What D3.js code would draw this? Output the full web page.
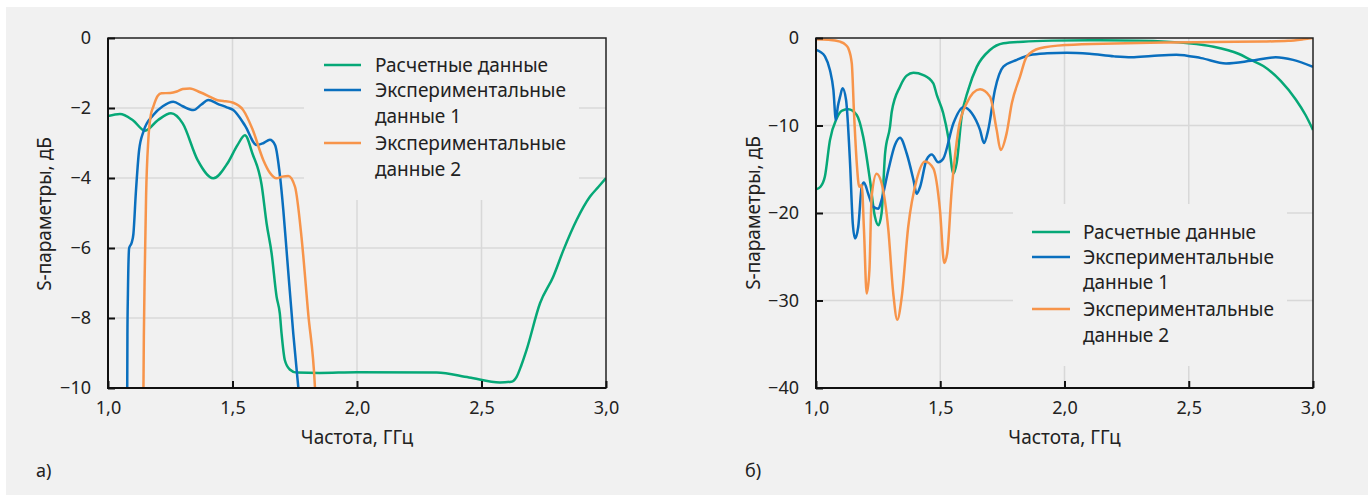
<!DOCTYPE html>
<html><head><meta charset="utf-8">
<script src="https://cdn.jsdelivr.net/npm/d3@7"></script>
<style>
html,body{margin:0;padding:0;background:#fff;}
svg{display:block;}
text{font-family:"Noto Sans",sans-serif;fill:#222;}
</style></head>
<body>
<svg id="chart" width="1368" height="495"></svg>
<script>
// ---------- DATA ----------
const xTickValues = [1.0, 1.5, 2.0, 2.5, 3.0];
const xTickLabels = ["1,0", "1,5", "2,0", "2,5", "3,0"];
const yTicksA = [0, -2, -4, -6, -8, -10];
const yTicksB = [0, -10, -20, -30, -40];
const seriesNames = ["Расчетные данные", "Экспериментальные данные 1", "Экспериментальные данные 2"];
const xTitle = "Частота, ГГц";
const yTitle = "S-параметры, дБ";
const panelLabels = ["а)", "б)"];

// Panel а: |S21|
const calcA_f = [1.0,1.048,1.1,1.149,1.2,1.253,1.3,1.36,1.423,1.48,1.52,1.55,1.58,1.617,1.637,1.657,1.677,1.69,1.697,1.71,1.73,1.758,1.85,2.0,2.32,2.45,2.574,2.62,2.641,2.66,2.681,2.735,2.788,2.829,2.882,2.936,2.97,3.0];
const calcA_v = [-2.23,-2.17,-2.35,-2.65,-2.35,-2.15,-2.44,-3.49,-4.01,-3.58,-3.06,-2.78,-3.3,-4.2,-5.3,-6.15,-7.39,-7.87,-8.44,-9.2,-9.47,-9.56,-9.57,-9.55,-9.56,-9.7,-9.84,-9.82,-9.68,-9.35,-8.91,-7.58,-6.82,-6.06,-5.2,-4.53,-4.25,-4.0];

const exp1A_f = [1.077,1.078,1.080,1.085,1.095,1.102,1.112,1.125,1.142,1.182,1.22,1.262,1.30,1.343,1.375,1.403,1.44,1.477,1.503,1.55,1.597,1.625,1.65,1.671,1.691,1.704,1.718,1.744,1.764,1.77];
const exp1A_v = [-10.4,-8.5,-7.3,-6.0,-5.85,-5.6,-4.4,-3.2,-2.68,-2.2,-1.95,-1.82,-1.95,-2.06,-1.9,-1.77,-1.88,-1.98,-2.06,-2.5,-3.06,-3.0,-2.91,-3.06,-3.96,-4.91,-6.15,-8.44,-9.96,-10.4];

const exp2A_f = [1.142,1.144,1.148,1.153,1.162,1.172,1.182,1.20,1.215,1.25,1.276,1.30,1.329,1.37,1.41,1.44,1.463,1.503,1.543,1.58,1.624,1.65,1.677,1.70,1.724,1.751,1.777,1.804,1.831,1.834];
const exp2A_v = [-10.4,-8.5,-6.5,-4.5,-2.9,-2.2,-1.96,-1.65,-1.58,-1.57,-1.53,-1.46,-1.44,-1.55,-1.68,-1.78,-1.8,-1.85,-2.06,-2.6,-3.49,-3.85,-4.01,-3.96,-3.94,-4.25,-5.68,-7.87,-9.96,-10.4];

// Panel б: |S11|
const calcB_f = [1.0,1.018,1.036,1.056,1.083,1.105,1.13,1.164,1.19,1.217,1.237,1.251,1.264,1.278,1.298,1.305,1.338,1.365,1.392,1.432,1.472,1.486,1.512,1.532,1.553,1.566,1.586,1.613,1.647,1.70,1.754,1.834,1.95,2.1,2.3,2.5,2.6,2.7,2.75,2.8,2.87,2.93,2.97,3.0];
const calcB_v = [-17.3,-17.0,-15.8,-11.7,-9.2,-8.3,-8.15,-8.8,-11.3,-16.2,-20.4,-21.4,-20.0,-13.2,-10.1,-8.4,-5.56,-4.3,-3.96,-4.23,-5.18,-6.5,-8.6,-11.3,-15.5,-14.3,-9.0,-5.9,-3.3,-1.37,-0.6,-0.42,-0.3,-0.25,-0.3,-0.6,-1.0,-1.8,-2.5,-3.2,-4.9,-7.0,-8.8,-10.5];

const exp1B_f = [1.0,1.018,1.036,1.056,1.07,1.08,1.088,1.097,1.107,1.121,1.137,1.148,1.157,1.17,1.184,1.193,1.21,1.231,1.251,1.264,1.291,1.318,1.338,1.365,1.392,1.405,1.419,1.445,1.466,1.492,1.512,1.553,1.593,1.627,1.66,1.676,1.693,1.72,1.754,1.808,1.861,1.93,2.009,2.1,2.2,2.27,2.35,2.45,2.55,2.65,2.75,2.85,2.92,3.0];
const exp1B_v = [-1.37,-1.6,-2.1,-3.66,-5.94,-9.37,-7.8,-6.7,-5.75,-7.09,-14.3,-21.2,-22.9,-21.6,-17.0,-16.5,-17.8,-19.3,-19.5,-18.5,-15.1,-12.2,-11.4,-13.2,-16.2,-17.8,-17.0,-13.9,-13.3,-14.2,-13.8,-9.75,-7.92,-8.6,-10.5,-12.0,-10.5,-5.94,-3.28,-2.51,-1.94,-1.75,-1.68,-1.8,-2.1,-2.2,-2.05,-1.9,-2.3,-2.9,-2.6,-2.2,-2.5,-3.3];

const exp2B_f = [1.0,1.05,1.097,1.12,1.13,1.144,1.153,1.164,1.174,1.184,1.193,1.204,1.215,1.224,1.244,1.264,1.291,1.311,1.327,1.345,1.371,1.405,1.439,1.472,1.499,1.516,1.528,1.546,1.573,1.606,1.66,1.70,1.727,1.743,1.767,1.788,1.821,1.848,1.901,2.009,2.2,2.4,2.6,2.8,2.9,2.96,3.0];
const exp2B_v = [-0.15,-0.2,-0.42,-0.8,-1.18,-2.9,-8.6,-14.3,-17.0,-16.8,-21.9,-29.2,-26.5,-18.1,-15.5,-16.6,-21.9,-29.2,-32.2,-29.6,-21.6,-16.2,-14.1,-14.9,-19.7,-25.7,-24.6,-17.4,-10.5,-7.47,-5.87,-6.7,-10.5,-12.8,-10.9,-7.47,-4.42,-2.13,-1.18,-0.8,-0.62,-0.52,-0.45,-0.4,-0.32,-0.15,0];

// ---------- STYLE / LAYOUT ----------
const colors = ["#06a877", "#0a6fbe", "#f7944a"];
const bg = "#f1f1f1";
const svg = d3.select("#chart");
svg.append("rect").attr("x", 6).attr("y", 7).attr("width", 1362).attr("height", 488).attr("fill", bg);

const zip = (f, v) => f.map((x, i) => ({f: x, v: v[i]}));

const panels = [
  {id: "a", left: 108, right: 606, top: 38, bottom: 388, yDomain: [-10, 0], yTicks: yTicksA,
   series: [zip(calcA_f, calcA_v), zip(exp1A_f, exp1A_v), zip(exp2A_f, exp2A_v)],
   legend: {x0: 304, x1: 579, y0: 38, y1: 200, lineX: 324, lineLen: 37, textX: 375, rows: [65, 90, 116, 143, 169]},
   yTitleX: 46, yTitleY: 214, label: panelLabels[0], labelX: 36},
  {id: "b", left: 816, right: 1313, top: 38, bottom: 388, yDomain: [-40, 0], yTicks: yTicksB,
   series: [zip(calcB_f, calcB_v), zip(exp1B_f, exp1B_v), zip(exp2B_f, exp2B_v)],
   legend: {x0: 1013, x1: 1287, y0: 204, y1: 366, lineX: 1032, lineLen: 38, textX: 1083, rows: [232, 257, 282, 309, 335]},
   yTitleX: 755, yTitleY: 213, label: panelLabels[1], labelX: 745}
];

const fmtMinus = d => d < 0 ? "\u2212" + Math.abs(d) : String(d);
const TEXT_SIZE = 19, TICK_SIZE = 18;

panels.forEach(p => {
  const x = d3.scaleLinear().domain([1.0, 3.0]).range([p.left, p.right]);
  const y = d3.scaleLinear().domain(p.yDomain).range([p.bottom, p.top]);
  const g = svg.append("g");

  // grid
  g.append("g").selectAll("line").data(xTickValues.slice(1, -1)).join("line")
    .attr("x1", d => x(d)).attr("x2", d => x(d)).attr("y1", p.top).attr("y2", p.bottom)
    .attr("stroke", "#d8d8d8").attr("stroke-width", 1.5);
  g.append("g").selectAll("line").data(p.yTicks.slice(1, -1)).join("line")
    .attr("x1", p.left).attr("x2", p.right).attr("y1", d => y(d)).attr("y2", d => y(d))
    .attr("stroke", "#d8d8d8").attr("stroke-width", 1.5);

  // legend background
  const L = p.legend;
  g.append("rect").attr("x", L.x0).attr("y", L.y0).attr("width", L.x1 - L.x0).attr("height", L.y1 - L.y0).attr("fill", bg);

  // clip
  const clipId = "clip-" + p.id;
  svg.append("clipPath").attr("id", clipId).append("rect")
    .attr("x", p.left).attr("y", p.top).attr("width", p.right - p.left).attr("height", p.bottom - p.top);

  const line = d3.line().x(d => x(d.f)).y(d => y(d.v)).curve(d3.curveMonotoneX);
  g.append("g").attr("clip-path", `url(#${clipId})`).selectAll("path").data(p.series).join("path")
    .attr("d", line).attr("fill", "none").attr("stroke", (d, i) => colors[i]).attr("stroke-width", 2.5)
    .attr("stroke-linejoin", "round");

  // frame
  g.append("rect").attr("x", p.left).attr("y", p.top).attr("width", p.right - p.left).attr("height", p.bottom - p.top)
    .attr("fill", "none").attr("stroke", "#222").attr("stroke-width", 1.5);
  g.append("line").attr("x1", p.left).attr("x2", p.left).attr("y1", p.top).attr("y2", p.bottom + 1).attr("stroke", "#111").attr("stroke-width", 2);
  g.append("line").attr("x1", p.left - 1).attr("x2", p.right).attr("y1", p.bottom).attr("y2", p.bottom).attr("stroke", "#111").attr("stroke-width", 2);

  // axes (inward ticks)
  const xAxis = d3.axisBottom(x).tickValues(xTickValues).tickFormat((d, i) => xTickLabels[i]).tickSize(-7).tickPadding(13);
  const ax = g.append("g").attr("transform", `translate(0,${p.bottom})`).call(xAxis);
  const yAxis = d3.axisLeft(y).tickValues(p.yTicks).tickFormat(fmtMinus).tickSize(-7).tickPadding(17);
  const ay = g.append("g").attr("transform", `translate(${p.left},0)`).call(yAxis);
  [ax, ay].forEach(a => {
    a.select(".domain").remove();
    a.selectAll(".tick line").attr("stroke", "#111").attr("stroke-width", 2);
    a.selectAll(".tick text").attr("font-family", "Noto Sans").attr("font-size", TICK_SIZE).attr("fill", "#333");
  });

  // titles
  g.append("text").attr("x", (p.left + p.right) / 2).attr("y", 444).attr("text-anchor", "middle")
    .attr("font-size", TEXT_SIZE).text(xTitle);
  g.append("text").attr("transform", `translate(${p.yTitleX},${p.yTitleY}) rotate(-90)`)
    .attr("text-anchor", "middle").attr("dominant-baseline", "middle").attr("font-size", TEXT_SIZE).text(yTitle);
  g.append("text").attr("x", p.labelX).attr("y", 477).attr("font-size", TICK_SIZE).text(p.label);

  // legend
  const rowsForSeries = [[0], [1, 2], [3, 4]];
  const textLines = [["Расчетные данные"], ["Экспериментальные", "данные 1"], ["Экспериментальные", "данные 2"]];
  seriesNames.forEach((name, i) => {
    const r0 = L.rows[rowsForSeries[i][0]];
    g.append("line").attr("x1", L.lineX).attr("x2", L.lineX + L.lineLen).attr("y1", r0).attr("y2", r0)
      .attr("stroke", colors[i]).attr("stroke-width", 2.5);
    textLines[i].forEach((t, j) => {
      g.append("text").attr("x", L.textX).attr("y", L.rows[rowsForSeries[i][j]])
        .attr("dominant-baseline", "central").attr("font-size", TEXT_SIZE).text(t);
    });
  });
});
</script>
</body></html>
